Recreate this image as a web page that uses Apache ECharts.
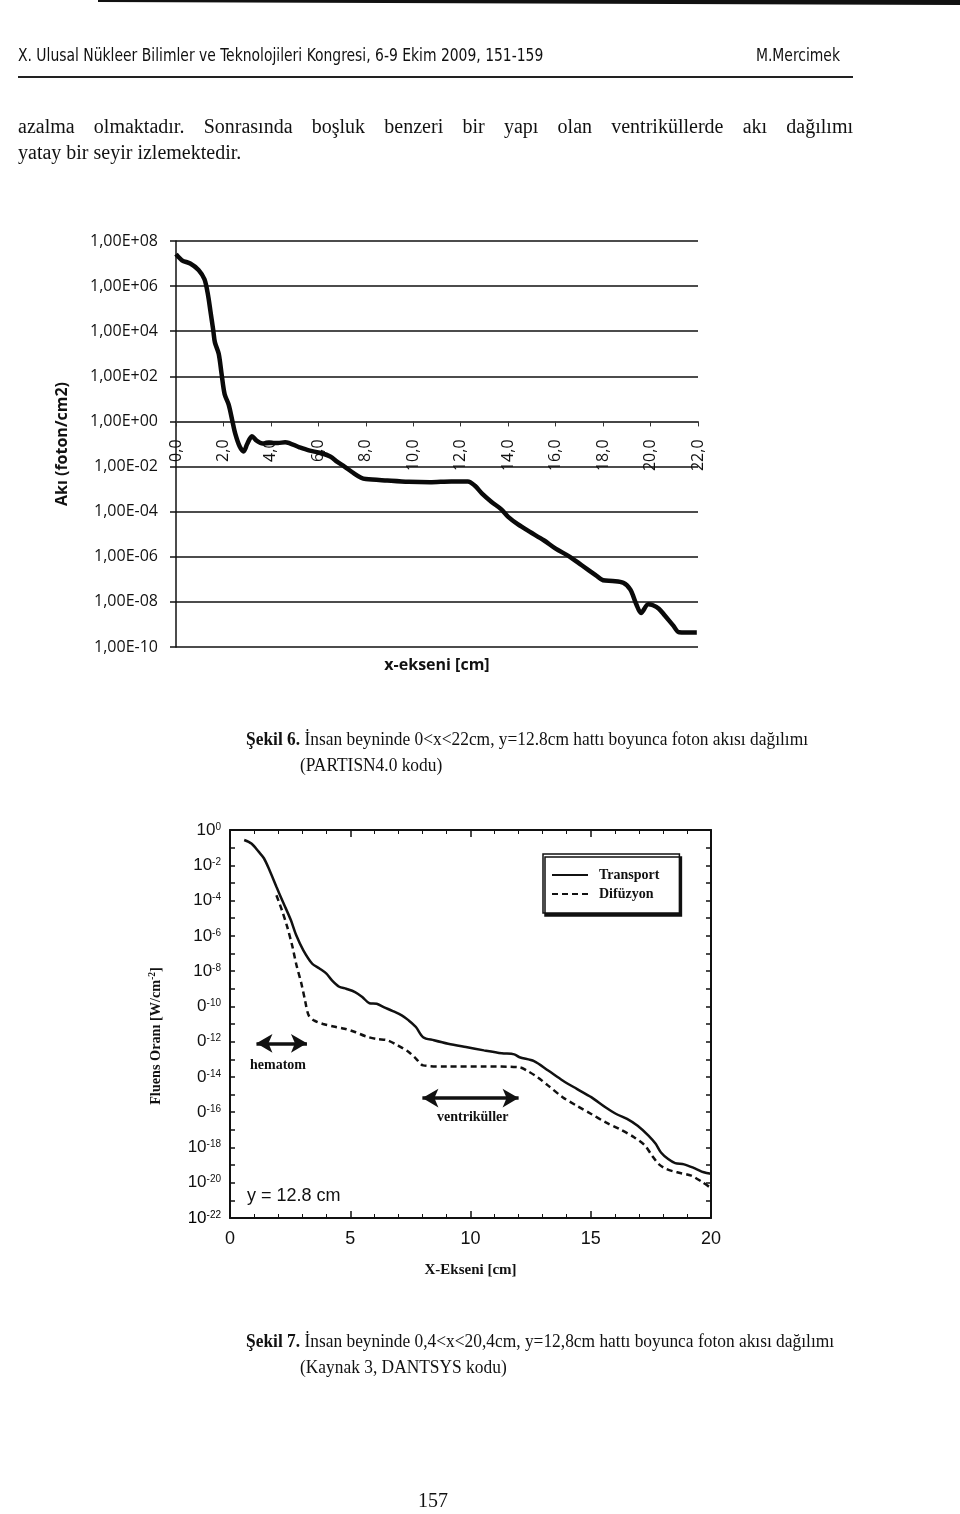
<!DOCTYPE html>
<html><head><meta charset="utf-8">
<script src="https://cdn.jsdelivr.net/npm/echarts@6/dist/echarts.min.js"></script>
<style>html,body{margin:0;padding:0;background:#fff}#c{width:960px;height:1514px}</style>
</head><body><div id="c"></div>
<script>
// ---------- Şekil 6 (PARTISN4.0) ----------
const fig6X = [0.0, 0.25, 0.6, 0.95, 1.2, 1.35, 1.45, 1.57, 1.64, 1.8, 1.92, 2.05, 2.22, 2.38, 2.5, 2.68, 2.85, 3.0, 3.2, 3.4, 3.65, 3.95, 4.3, 4.6, 5.2, 5.6, 6.1, 6.5, 6.8, 7.1, 7.5, 7.8, 8.0, 8.9, 9.8, 10.7, 11.6, 12.3, 12.6, 12.9, 13.3, 13.7, 14.0, 14.4, 14.9, 15.5, 16.0, 16.6, 17.1, 17.7, 18.0, 18.4, 18.85, 19.15, 19.4, 19.6, 19.9, 20.1, 20.35, 20.6, 20.95, 21.2, 21.5, 21.95];
const fig6Flux = [2.6e7, 1.4e7, 1.0e7, 5.2e6, 2.0e6, 4.0e5, 7.9e4, 1.1e4, 3.2e3, 1.0e3, 1.3e2, 16, 5.6, 1.0, 0.28, 0.079, 0.047, 0.10, 0.22, 0.14, 0.105, 0.11, 0.11, 0.12, 0.071, 0.052, 0.040, 0.028, 0.016, 0.010, 5.0e-3, 3.2e-3, 2.8e-3, 2.4e-3, 2.1e-3, 2.0e-3, 2.2e-3, 2.2e-3, 1.4e-3, 6.3e-4, 2.7e-4, 1.3e-4, 5.9e-5, 2.8e-5, 1.3e-5, 5.4e-6, 2.3e-6, 1.0e-6, 4.2e-7, 1.5e-7, 9.1e-8, 8.5e-8, 7.1e-8, 3.5e-8, 7.9e-9, 3.2e-9, 7.9e-9, 7.1e-9, 5.0e-9, 2.5e-9, 9.1e-10, 4.5e-10, 4.4e-10, 4.4e-10];

// ---------- Şekil 7 (DANTSYS) ----------
const fig7TransportX = [0.59, 0.89, 1.19, 1.41, 1.64, 1.93, 2.23, 2.53, 2.75, 3.05, 3.42, 3.72, 4.01, 4.24, 4.54, 4.83, 5.2, 5.5, 5.8, 6.1, 6.39, 6.77, 7.14, 7.43, 7.73, 8.03, 8.48, 9.07, 9.81, 10.56, 11.3, 11.82, 12.04, 12.64, 13.23, 13.83, 14.42, 15.02, 15.61, 16.06, 16.51, 16.95, 17.4, 17.7, 17.92, 18.22, 18.51, 18.88, 19.33, 19.7, 20.0];
const fig7Transport = [2.7e-1, 1.7e-1, 5.9e-2, 2.5e-2, 5.4e-3, 6.0e-4, 6.8e-5, 7.8e-6, 1.1e-6, 1.5e-7, 2.6e-8, 1.4e-8, 7.2e-9, 3.0e-9, 1.3e-9, 1.0e-9, 6.5e-10, 3.4e-10, 1.5e-10, 1.4e-10, 9.1e-11, 5.4e-11, 3.1e-11, 1.6e-11, 6.8e-12, 1.8e-12, 1.2e-12, 7.6e-13, 4.9e-13, 3.2e-13, 2.2e-13, 1.9e-13, 1.3e-13, 7.8e-14, 2.3e-14, 6.3e-15, 2.1e-15, 7.1e-16, 1.9e-16, 7.9e-17, 4.2e-17, 1.7e-17, 4.7e-18, 1.6e-18, 5.2e-19, 2.2e-19, 1.3e-19, 1.1e-19, 6.5e-20, 3.9e-20, 3.2e-20];
const fig7DiffusionX = [1.93, 2.16, 2.38, 2.6, 2.75, 2.97, 3.12, 3.27, 3.49, 3.87, 4.31, 4.76, 5.2, 5.65, 6.1, 6.54, 6.99, 7.43, 7.73, 8.03, 9.07, 10.56, 12.04, 12.34, 12.79, 13.23, 13.83, 14.42, 15.02, 15.61, 16.2, 16.8, 17.25, 17.55, 17.84, 18.14, 18.59, 19.18, 19.63, 20.0];
const fig7Diffusion = [2.0e-4, 2.8e-5, 3.2e-6, 2.3e-7, 2.6e-8, 1.9e-9, 2.2e-10, 3.1e-11, 1.6e-11, 1.0e-11, 7.2e-12, 5.4e-12, 3.5e-12, 2.0e-12, 1.4e-12, 1.2e-12, 6.0e-13, 2.6e-13, 1.1e-13, 4.5e-14, 3.9e-14, 3.9e-14, 3.5e-14, 2.3e-14, 9.5e-15, 3.2e-15, 7.1e-16, 2.3e-16, 7.9e-17, 2.7e-17, 1.1e-17, 3.8e-18, 1.3e-18, 3.4e-19, 1.1e-19, 6.0e-20, 3.9e-20, 2.5e-20, 1.1e-20, 5.0e-21];
const fig7LabelBase = ['10', '10', '10', '10', '10', '0', '0', '0', '0', '10', '10', '10'];
const fig7LabelSup = ['0', '-2', '-4', '-6', '-8', '-10', '-12', '-14', '-16', '-18', '-20', '-22'];
// annotation arrows: [x0, x1, y]
const hematomArrow = [1.1, 3.2, 8e-13];
const ventrikulArrow = [8.0, 12.0, 6.3e-16];

const bodyLine1 = 'azalma olmaktadır. Sonrasında boşluk benzeri bir yapı olan ventriküllerde akı dağılımı';
const bodyLine2 = 'yatay bir seyir izlemektedir.';

const chart = echarts.init(document.getElementById('c'), null, {renderer: 'canvas'});

const G1 = {left: 176, top: 241, width: 522, height: 406};
const G2 = {left: 230, top: 830, width: 481, height: 388};
const fig7YMin = 1e-22;

function sciLabel(v) {
  const e = Math.round(Math.log10(v));
  const a = Math.abs(e);
  return '1,00E' + (e < 0 ? '-' : '+') + (a < 10 ? '0' : '') + a;
}
function supText(e) {
  const i = -e / 2;
  if (!fig7LabelBase[i]) return '';
  return '{b|' + fig7LabelBase[i] + '}{s|' + fig7LabelSup[i] + '}';
}
function supLabel(v) {
  if (!(v > 0)) return '';
  const e = Math.round(Math.log10(v));
  if (e % 2 !== 0) return '';
  return supText(e);
}

const serif = "'Liberation Serif', 'Times New Roman', serif";
const sans = "'Liberation Sans', Arial, sans-serif";
const calib = "'Open Sans', 'DejaVu Sans', sans-serif";
const narrow = "'Liberation Sans Narrow', 'Arial Narrow', 'DejaVu Sans Condensed', sans-serif";
const supRich = {b: {fontFamily: sans, fontSize: 17, color: '#111', lineHeight: 16},
                 s: {fontFamily: sans, fontSize: 10, color: '#111', verticalAlign: 'top', lineHeight: 10}};

// justified text helper
const mctx = document.createElement('canvas').getContext('2d');
function justify(text, x0, x1, y, size, family) {
  mctx.font = size + 'px ' + family;
  const words = text.split(' ');
  const widths = words.map(w => mctx.measureText(w).width);
  const total = widths.reduce((a, b) => a + b, 0);
  const gap = (x1 - x0 - total) / (words.length - 1);
  let x = x0;
  return words.map((w, i) => {
    const el = {type: 'text', x: x, y: y, style: {text: w, font: size + 'px ' + family, fill: '#111', verticalAlign: 'middle'}};
    x += widths[i] + gap;
    return el;
  });
}

function buildGraphics(minLabelY) {
  return [
    {type: 'polygon', shape: {points: [[98, 0], [960, 0], [960, 5], [98, 2]]}, style: {fill: '#111'}},
    {type: 'text', x: 18, y: 57, scaleX: 0.91, style: {text: 'X. Ulusal Nükleer Bilimler ve Teknolojileri Kongresi, 6-9 Ekim 2009, 151-159', font: '17px ' + narrow, fill: '#111', verticalAlign: 'middle'}},
    {type: 'text', x: 840, y: 57, scaleX: 0.91, style: {text: 'M.Mercimek', font: '17px ' + narrow, fill: '#111', align: 'right', verticalAlign: 'middle'}},
    {type: 'rect', shape: {x: 18, y: 76, width: 835, height: 2}, style: {fill: '#222'}},
    ...justify(bodyLine1, 18, 853, 128, 20, serif),
    {type: 'text', x: 18, y: 154, style: {text: bodyLine2, font: '20px ' + serif, fill: '#111', verticalAlign: 'middle'}},
    {type: 'text', x: 437, y: 665, style: {text: 'x-ekseni [cm]', font: 'bold 16px ' + calib, fill: '#111', align: 'center', verticalAlign: 'middle'}},
    {type: 'text', x: 246, y: 740, scaleX: 0.915, style: {text: '{b|Şekil 6.} İnsan beyninde 0<x<22cm, y=12.8cm hattı boyunca foton akısı dağılımı', font: '19px ' + serif, fill: '#111', verticalAlign: 'middle', rich: {b: {fontWeight: 'bold', fontSize: 19, fontFamily: serif}}}},
    {type: 'text', x: 300, y: 766, scaleX: 0.915, style: {text: '(PARTISN4.0 kodu)', font: '19px ' + serif, fill: '#111', verticalAlign: 'middle'}},
    {type: 'text', x: 156, y: 1036, rotation: Math.PI / 2, scaleX: 0.95, style: {text: '{t|Fluens Oranı [W/cm}{u|-2}{t|]}', fill: '#111', align: 'center', verticalAlign: 'middle',
      rich: {t: {fontFamily: serif, fontWeight: 'bold', fontSize: 15, lineHeight: 18}, u: {fontFamily: serif, fontWeight: 'bold', fontSize: 10, verticalAlign: 'top', lineHeight: 12}}}},
    // bottom decade label (10^-22) of the left log axis, placed through the axis scale
    {type: 'text', x: G2.left - 9, y: minLabelY, style: {text: supText(-22), align: 'right', verticalAlign: 'middle', rich: supRich}},
    {type: 'text', x: 250, y: 1065, style: {text: 'hematom', font: 'bold 14px ' + serif, fill: '#111', verticalAlign: 'middle'}},
    {type: 'text', x: 437, y: 1117, style: {text: 'ventriküller', font: 'bold 14px ' + serif, fill: '#111', verticalAlign: 'middle'}},
    {type: 'text', x: 247, y: 1196, style: {text: 'y = 12.8 cm', font: '18px ' + sans, fill: '#111', verticalAlign: 'middle'}},
    {type: 'text', x: 246, y: 1342, scaleX: 0.915, style: {text: '{b|Şekil 7.} İnsan beyninde 0,4<x<20,4cm, y=12,8cm hattı boyunca foton akısı dağılımı', font: '19px ' + serif, fill: '#111', verticalAlign: 'middle', rich: {b: {fontWeight: 'bold', fontSize: 19, fontFamily: serif}}}},
    {type: 'text', x: 300, y: 1368, scaleX: 0.915, style: {text: '(Kaynak 3, DANTSYS kodu)', font: '19px ' + serif, fill: '#111', verticalAlign: 'middle'}},
    {type: 'text', x: 433, y: 1502, style: {text: '157', font: '20px ' + serif, fill: '#111', align: 'center', verticalAlign: 'middle'}}
  ];
}

const option = {
  animation: false,
  backgroundColor: '#fff',
  grid: [
    {left: G1.left, top: G1.top, width: G1.width, height: G1.height, containLabel: false, outerBoundsMode: 'none'},
    {left: G2.left, top: G2.top, width: G2.width, height: G2.height, containLabel: false, outerBoundsMode: 'none'}
  ],
  legend: {
    data: ['Transport', 'Difüzyon'],
    orient: 'vertical', left: 543, top: 854,
    padding: [14, 20, 12, 8], itemGap: 5, itemWidth: 36, itemHeight: 12,
    backgroundColor: '#fff', borderColor: '#111', borderWidth: 1.5,
    shadowColor: '#111', shadowBlur: 0, shadowOffsetX: 2, shadowOffsetY: 3,
    itemStyle: {color: 'rgba(0,0,0,0)', borderWidth: 0, opacity: 0},
    textStyle: {fontFamily: serif, fontWeight: 'bold', fontSize: 14, color: '#111', padding: [0, 0, 0, 6]}
  },
  xAxis: [
    {gridIndex: 0, type: 'value', min: 0, max: 22, interval: 2, position: 'bottom',
     offset: -G1.height * 10 / 18,
     axisLine: {show: true, onZero: false, lineStyle: {color: '#444', width: 1.5}},
     axisTick: {show: true, inside: false, length: 5, lineStyle: {color: '#333'}},
     axisLabel: {rotate: 90, margin: 18, fontFamily: calib, fontSize: 16, color: '#111', formatter: v => v.toFixed(1).replace('.', ',')},
     splitLine: {show: false}},
    {gridIndex: 1, type: 'value', min: 0, max: 20, interval: 5, position: 'bottom',
     name: 'X-Ekseni [cm]', nameLocation: 'middle', nameGap: 45,
     nameTextStyle: {fontFamily: serif, fontWeight: 'bold', fontSize: 15, color: '#111'},
     axisLine: {onZero: false, lineStyle: {color: '#111', width: 2}},
     axisTick: {inside: true, length: 7, lineStyle: {color: '#111', width: 1.5}},
     minorTick: {show: true, splitNumber: 5, length: 4, lineStyle: {color: '#111'}},
     axisLabel: {margin: 12, fontFamily: sans, fontSize: 18, color: '#111', hideOverlap: false},
     splitLine: {show: false}},
    {gridIndex: 1, type: 'value', min: 0, max: 20, interval: 5, position: 'top',
     axisLine: {onZero: false, lineStyle: {color: '#111', width: 2}},
     axisTick: {inside: true, length: 7, lineStyle: {color: '#111', width: 1.5}},
     minorTick: {show: true, splitNumber: 5, length: 4, lineStyle: {color: '#111'}},
     axisLabel: {show: false}, splitLine: {show: false}}
  ],
  yAxis: [
    {gridIndex: 0, type: 'log', logBase: 10, min: 1e-10, max: 1e8, interval: 2,
     name: 'Akı (foton/cm2)', nameLocation: 'middle', nameGap: 106, nameRotate: 90,
     nameTextStyle: {fontFamily: calib, fontWeight: 'bold', fontSize: 16, color: '#111'},
     axisLine: {show: true, lineStyle: {color: '#111', width: 1.5}},
     axisTick: {show: true, inside: false, length: 6, lineStyle: {color: '#111', width: 1.5}},
     axisLabel: {margin: 18, fontFamily: calib, fontSize: 16, color: '#111', formatter: sciLabel},
     splitLine: {show: true, lineStyle: {color: '#111', width: 1.5}}},
    {gridIndex: 1, type: 'log', logBase: 10, min: fig7YMin, max: 1, interval: 1, position: 'left',
     axisLine: {onZero: false, lineStyle: {color: '#111', width: 2}},
     axisTick: {inside: true, length: 5, lineStyle: {color: '#111', width: 1.5}},
     axisLabel: {margin: 9, formatter: supLabel, showMinLabel: true, showMaxLabel: true, hideOverlap: false, rich: supRich},
     splitLine: {show: false}},
    {gridIndex: 1, type: 'log', logBase: 10, min: fig7YMin, max: 1, interval: 1, position: 'right',
     axisLine: {onZero: false, lineStyle: {color: '#111', width: 2}},
     axisTick: {inside: true, length: 5, lineStyle: {color: '#111', width: 1.5}},
     axisLabel: {show: false}, splitLine: {show: false}}
  ],
  series: [
    {name: 'Şekil 6', type: 'line', xAxisIndex: 0, yAxisIndex: 0, smooth: 0.3, symbol: 'none',
     data: fig6X.map((x, i) => [x, fig6Flux[i]]), lineStyle: {color: '#0a0a0a', width: 4.5}},
    {name: 'Transport', type: 'line', xAxisIndex: 1, yAxisIndex: 1, smooth: 0.3, symbol: 'none',
     data: fig7TransportX.map((x, i) => [x, fig7Transport[i]]), lineStyle: {color: '#111', width: 2.5},
     itemStyle: {color: '#111'},
     markLine: {silent: true, symbol: ['arrow', 'arrow'], symbolSize: [14, 16], animation: false,
       label: {show: false}, lineStyle: {color: '#111', width: 3.5, type: 'solid'},
       data: [
         [{coord: [hematomArrow[0], hematomArrow[2]]}, {coord: [hematomArrow[1], hematomArrow[2]]}],
         [{coord: [ventrikulArrow[0], ventrikulArrow[2]]}, {coord: [ventrikulArrow[1], ventrikulArrow[2]]}]
       ]}},
    {name: 'Difüzyon', type: 'line', xAxisIndex: 1, yAxisIndex: 1, smooth: 0.3, symbol: 'none',
     data: fig7DiffusionX.map((x, i) => [x, fig7Diffusion[i]]), lineStyle: {color: '#111', width: 2.5, type: [6, 4]},
     itemStyle: {color: '#111'}}
  ]
};

function render() {
  chart.setOption(option);
  let yMin = chart.convertToPixel({yAxisIndex: 1}, fig7YMin);
  if (!isFinite(yMin)) yMin = G2.top + G2.height;
  chart.setOption({graphic: buildGraphics(yMin)}, {replaceMerge: ['graphic']});
}
render();
const fontLoads = ['20px "Liberation Serif"', 'bold 20px "Liberation Serif"', '17px "Liberation Sans"', '17px "Liberation Sans Narrow"', '16px "Open Sans"', 'bold 16px "Open Sans"']
  .map(f => document.fonts.load(f).catch(() => null));
Promise.all(fontLoads).then(() => document.fonts.ready).then(render).catch(render);
</script></body></html>
